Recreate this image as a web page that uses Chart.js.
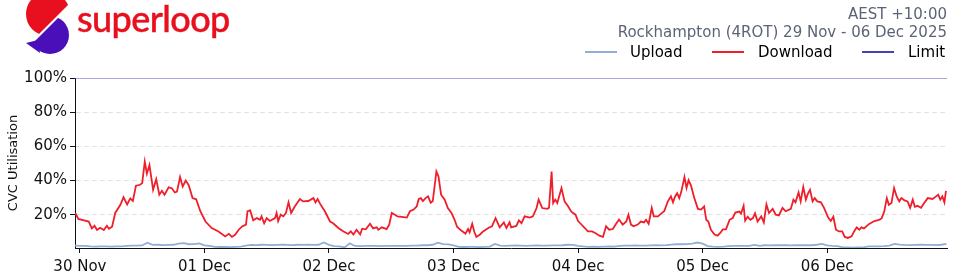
<!DOCTYPE html>
<html>
<head>
<meta charset="utf-8">
<script src="https://cdn.jsdelivr.net/npm/chart.js@4.4.1/dist/chart.umd.min.js"></script>
<style>
html,body{margin:0;padding:0;background:#fff;}
#wrap{position:relative;width:960px;height:280px;overflow:hidden;background:#fff;}
#c{position:absolute;left:0;top:0;}
.brand{position:absolute;left:77px;top:-4px;font-family:Lato,"Open Sans",sans-serif;font-size:36px;font-weight:500;color:#e8101e;line-height:44px;letter-spacing:-0.6px;white-space:nowrap;-webkit-text-stroke:0.4px #e8101e;}
.hdr{position:absolute;right:13px;top:5px;font-family:"DejaVu Sans",sans-serif;font-size:15px;color:#5b6477;line-height:18px;text-align:right;white-space:nowrap;}
.lg{position:absolute;top:43px;height:18px;font-family:"DejaVu Sans",sans-serif;font-size:15px;line-height:18px;color:#000;white-space:nowrap;}
.lg i{position:absolute;top:8px;height:2px;width:32px;}
.lg span{position:absolute;top:0;}
</style>
</head>
<body>
<div id="wrap">
<canvas id="c" width="960" height="280"></canvas>
<svg style="position:absolute;left:0;top:0" width="80" height="60" viewBox="0 0 80 60">
  <defs>
    <clipPath id="cr"><polygon points="0,0 73,0 0,73"/></clipPath>
    <clipPath id="cp"><polygon points="76,0 100,0 100,100 0,100 0,43 33,43"/></clipPath>
  </defs>
  <circle cx="48" cy="14" r="22" fill="#e8101e" clip-path="url(#cr)"/>
  <circle cx="50" cy="35" r="19" fill="#4a0fb8" clip-path="url(#cp)"/>
  <polygon points="26,43 38,40 40,53" fill="#4a0fb8"/>
</svg>
<div class="brand">superloop</div>
<div class="hdr">AEST +10:00<br>Rockhampton (4ROT) 29 Nov - 06 Dec 2025</div>
<div class="lg" style="left:585px"><i style="left:0;background:#8fb0d4"></i><span style="left:45px">Upload</span></div>
<div class="lg" style="left:712px"><i style="left:0;background:#ee1f2b"></i><span style="left:46px">Download</span></div>
<div class="lg" style="left:862px"><i style="left:0;background:#4343b5"></i><span style="left:46px">Limit</span></div>
</div>
<script>
// ---- data ----
const tickHours = [0, 24, 48, 72, 96, 120, 144];
const tickLabels = ['30 Nov', '01 Dec', '02 Dec', '03 Dec', '04 Dec', '05 Dec', '06 Dec'];
const yTicks = [20, 40, 60, 80, 100];
const limitValue = 100;

const downloadHours = [-0.9,-0.3,1.0,1.7,2.3,2.8,3.3,3.9,4.6,5.2,5.6,6.2,6.8,7.8,8.4,9.1,9.7,10.2,10.8,11.6,12.0,12.5,12.9,13.4,14.1,14.7,15.3,15.8,16.3,17.1,17.7,18.3,18.7,19.3,19.8,20.4,21.0,21.7,22.4,23.2,24.2,25.4,26.7,28.0,28.7,29.3,29.9,30.6,31.2,32.0,
32.3,32.8,33.4,34.1,34.7,35.0,35.5,36.0,36.6,37.6,37.9,38.2,38.7,39.2,39.7,40.2,40.7,41.4,42.4,43.0,44.0,45.0,45.4,45.8,46.3,47.2,48.2,48.8,49.8,50.8,51.7,52.2,52.7,53.3,54.0,54.4,55.1,55.9,56.5,57.2,57.5,58.2,59.1,59.6,60.1,60.7,61.2,62.0,63.0,63.6,64.3,64.9,65.3,
65.7,66.1,66.6,67.1,67.6,68.0,68.7,69.1,69.6,70.3,70.9,71.6,72.2,72.7,73.5,74.3,74.8,75.1,75.6,76.0,76.4,77.1,77.7,78.7,79.4,80.1,80.9,81.7,82.2,82.8,83.1,84.1,84.6,85.1,85.7,86.7,87.3,88.0,88.4,89.1,90.1,90.4,90.9,91.2,91.6,92.0,92.8,93.4,94.1,94.7,95.5,96.0,96.6,97.3,97.9,98.7,
99.3,100.1,100.8,101.4,102.0,102.7,103.3,103.9,104.6,105.3,105.7,106.2,106.7,107.5,108.1,108.7,109.1,109.6,110.2,110.6,111.4,112.0,112.6,113.3,113.9,114.3,114.7,115.1,115.5,115.9,116.5,116.9,117.3,117.8,118.4,119.1,119.7,120.3,120.7,121.1,121.6,122.3,122.9,123.4,123.9,124.5,125.2,125.8,126.3,127.1,127.4,127.9,128.2,128.7,129.2,129.7,130.1,130.6,131.3,131.8,132.3,
132.8,133.5,134.1,134.7,135.4,136.0,137.0,137.5,137.9,138.5,138.9,139.4,139.9,140.3,140.7,141.2,141.6,142.1,142.8,143.4,144.2,144.7,145.2,145.7,146.3,146.9,147.4,148.0,148.7,149.2,149.7,150.2,150.6,151.1,152.1,153.1,154.0,154.5,155.0,155.5,155.9,156.4,156.9,157.4,157.9,158.3,158.9,159.5,160.0,160.5,160.9,161.4,162.1,162.7,163.4,164.3,165.0,165.4,165.8,166.2,166.6,166.9];

const downloadValues = [21,17.5,16.5,16,12,13.5,11,12.3,11,13.5,11.8,13,21,25.8,30.3,26,29.5,28,37,37.5,38.5,51,44,49,34.6,40.8,31.7,34,31.7,36,35.5,33,33.5,42,36.5,40,37,29.7,29,22,16,12.2,10.2,7.3,8.8,7,8.2,11.2,13,14.2,
22,22.5,16.7,18,17,19,15,18,16.3,18,21,16.3,20,19,21,27.2,21,24.8,29.2,27.8,28,29.7,27.2,29.2,26.3,22,16,15,12.2,10.2,8.7,10.2,8.4,11.2,8.4,11.8,11.4,14.7,12,12.6,11.2,12.6,11.6,14.2,21,20,19,18.7,18.3,22,23,24.8,29.2,
29.7,28,29.7,30.7,27,28,45.3,42.4,31.7,28.8,23.9,21,17,12.8,10.7,8.9,11.6,9.7,14.7,10,7,8.4,10.2,12.2,13.2,18,12.6,15.5,12.2,15.5,12.6,13.4,16.7,15,19,18.3,19,23.9,28.8,23.9,23.4,24,45.3,26.8,28.8,26.8,35.6,27.8,24.8,21.8,20,16.3,14.4,12.2,10.2,10.2,
9.3,7.7,7,13.2,11.2,11.6,14.6,17.2,14.2,16,20,14.2,13.2,14.2,16,15.5,17,14.6,23.9,19,19,20.6,22,27.8,30.7,27.3,30.7,32.6,29.7,33.5,42,35.6,40.2,36.7,29.7,23.4,23,24.8,17,16,11.2,8.4,7.7,9.3,11.4,11.4,17,18,21.2,21.8,20.6,25.2,16.5,18.8,17,18,20.8,16,19,15.5,26,
21,23.4,20,19.6,24,22,23.4,28.8,27.2,33,27.8,36.2,28.8,32.3,34.6,27.8,29.7,27.8,27.2,24,18.3,16.3,18.8,11.2,10.2,10.2,7,6.4,7.3,10.2,12.6,11.2,12.6,12,14.6,16.3,17,17.8,21.8,29.7,25.8,26.8,35.6,30.7,27.8,29.7,28.4,27.8,24,28.8,24.6,25.2,24,26.8,29.7,29.2,30.7,31.7,28.8,30.7,27.2,34];

const uploadStartHour = -1;
const uploadValues = [1.9,1.8,1.7, 1.4,1.3,1.5,1.4,1.3,1.5,1.4, 1.8,1.9,1.9,2.0, 3.6, 2.3,2.4,2.2,2.3,2.4, 3.1,3.3, 2.7,2.8, 3.2,
2.0,1.7, 1.2,1.1,1.2,1.0,1.2,1.3, 1.9, 2.3,2.2,2.4,2.3,2.2,2.3,2.4,2.3,2.2,2.4,2.3,2.5,2.3, 2.4,3.7,
2.3,1.6,1.5,0.8,3.2, 1.7,1.6,1.7,1.8,1.7,1.6,1.7,1.8,1.7,1.7,1.8, 1.9,1.9, 2.1,2.1, 2.4,3.6,2.8,2.6,
2.0, 1.2,1.1,1.2,1.1,1.0,1.2,1.3, 2.9, 1.9,1.8,1.9,2.0,1.9,1.8,1.9,2.0,1.9,1.9,2.0,2.0,2.1, 2.4,2.3,
1.7,1.4,1.2, 1.3,1.2,1.3,1.4,1.3, 1.8,1.9,1.9,2.0,1.9,1.9,2.0,2.1,2.0, 2.2,2.5,2.7,2.7,2.8,3.0,3.7,
3.0, 1.6,1.3,1.2,1.3, 1.6,1.7,1.7,1.8,1.7,2.3,1.8, 2.1,2.0,2.1,2.2,2.1,2.0,2.1,2.2,2.1,2.1, 2.4,2.9,
2.0,1.7,1.6, 0.9,0.8,0.7,0.8,0.9, 1.4,1.5,1.5,1.6, 1.9,2.9,2.5, 2.3,2.2,2.3,2.4,2.3,2.3,2.2,2.4, 2.9];

const xMin = -0.95, xMax = 167.1;
// ---------------

const F = 'DejaVu Sans';
const downloadData = downloadHours.map((h, i) => ({x: h, y: downloadValues[i]}));
const uploadData = uploadValues.map((v, i) => ({x: uploadStartHour + i, y: v}));
const limitData = [{x: xMin, y: limitValue}, {x: xMax, y: limitValue}];

new Chart(document.getElementById('c'), {
  type: 'line',
  data: {
    datasets: [
      {label: 'Upload', data: uploadData, borderColor: '#8fb0d4', backgroundColor: '#8fb0d4', borderWidth: 1.8, pointRadius: 0, tension: 0, fill: false},
      {label: 'Download', data: downloadData, borderColor: '#ee1f2b', backgroundColor: '#ee1f2b', borderWidth: 1.8, pointRadius: 0, tension: 0, fill: false},
      {label: 'Limit', data: limitData, borderColor: '#5555c4', backgroundColor: '#5555c4', borderWidth: 1.2, pointRadius: 0, tension: 0, fill: false}
    ]
  },
  options: {
    responsive: false,
    animation: false,
    events: [],
    layout: {padding: {top: 78, right: 13, left: 0, bottom: 0}},
    plugins: {legend: {display: false}, tooltip: {enabled: false}},
    scales: {
      x: {
        type: 'linear', min: xMin, max: xMax,
        afterBuildTicks: s => { s.ticks = tickHours.map(v => ({value: v})); },
        afterFit: s => { s.height = 32; },
        ticks: {
          callback: v => tickLabels[tickHours.indexOf(v)],
          font: {family: F, size: 15}, color: '#111', maxRotation: 0, autoSkip: false, padding: 5
        },
        grid: {drawOnChartArea: false, tickLength: 5, tickColor: '#111', tickWidth: 1},
        border: {color: '#111', width: 1}
      },
      y: {
        min: 0.5, max: 100,
        afterBuildTicks: s => { s.ticks = yTicks.map(v => ({value: v})); },
        afterFit: s => { s.width = 75; },
        ticks: {
          callback: v => v + '%',
          font: {family: F, size: 15}, color: '#111', padding: 3
        },
        grid: {
          color: c => (c.tick && c.tick.value < 100) ? '#e2e2e2' : 'rgba(0,0,0,0)',
          lineWidth: 1, tickLength: 5, tickColor: '#111', tickWidth: 1
        },
        border: {color: '#111', width: 1, dash: [5, 3]},
        title: {display: true, text: 'CVC Utilisation', font: {family: F, size: 13}, color: '#111', padding: {top: 6, bottom: 0}}
      }
    }
  }
});
</script>
</body>
</html>
